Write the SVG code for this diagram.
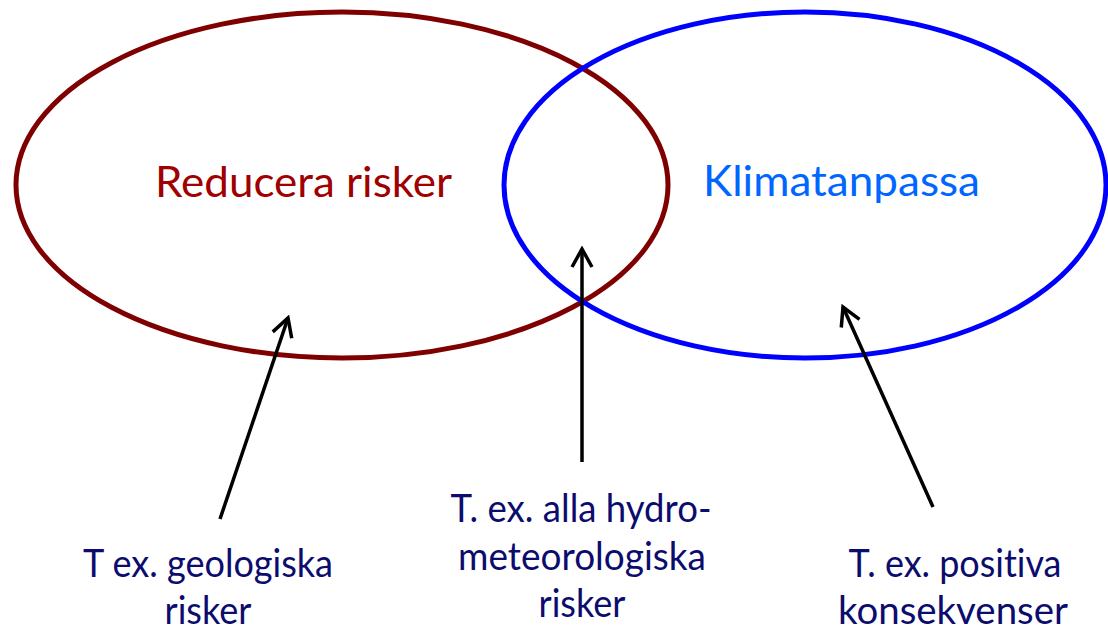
<svg xmlns="http://www.w3.org/2000/svg" width="1108" height="630" viewBox="0 0 1108 630">
<defs>
<style>
text{font-family:Lato,"Open Sans","Liberation Sans",sans-serif;font-variant-ligatures:none;}
.title{font-size:43px;}
.lbl{font-size:38px;fill:#0C0C6E;text-anchor:middle;}
.arr{stroke:#000;stroke-width:3.5;fill:none;}
</style>
<marker id="ah" viewBox="0 0 26 26" refX="23" refY="13" markerWidth="26" markerHeight="26" markerUnits="userSpaceOnUse" orient="auto">
<path d="M5,3 L23,13 L5,23" fill="none" stroke="#000" stroke-width="3.5"/>
</marker>
</defs>
<rect width="1108" height="630" fill="#fff"/>
<g id="reducera">
<ellipse cx="342" cy="185" rx="326" ry="173" fill="none" stroke="#7F0000" stroke-width="5"/>
<text class="title" x="155" y="197" fill="#A00000" textLength="297" lengthAdjust="spacingAndGlyphs">Reducera risker</text>
</g>
<g id="klimat">
<ellipse cx="805" cy="185" rx="301" ry="173" fill="none" stroke="#0000FF" stroke-width="5"/>
<text class="title" x="703" y="196" fill="#0066FF" textLength="277" lengthAdjust="spacingAndGlyphs">Klimatanpassa</text>
</g>
<g id="geo">
<text class="lbl" x="208" y="577" textLength="250" lengthAdjust="spacingAndGlyphs">T ex. geologiska</text>
<text class="lbl" x="208" y="624" textLength="87" lengthAdjust="spacingAndGlyphs">risker</text>
</g>
<g id="hydro">
<text class="lbl" x="581" y="522" textLength="261" lengthAdjust="spacingAndGlyphs">T. ex. alla hydro-</text>
<text class="lbl" x="582" y="570" textLength="248" lengthAdjust="spacingAndGlyphs">meteorologiska</text>
<text class="lbl" x="582" y="617" textLength="87" lengthAdjust="spacingAndGlyphs">risker</text>
</g>
<g id="positiva">
<text class="lbl" x="955" y="577" textLength="213" lengthAdjust="spacingAndGlyphs">T. ex. positiva</text>
<text class="lbl" x="953" y="624" textLength="230" lengthAdjust="spacingAndGlyphs">konsekvenser</text>
</g>
<g id="connectors">
<line class="arr" x1="220" y1="519" x2="288" y2="318" marker-end="url(#ah)"/>
<line class="arr" x1="582" y1="462" x2="582" y2="249" marker-end="url(#ah)"/>
<line class="arr" x1="933" y1="507" x2="843" y2="307" marker-end="url(#ah)"/>
</g>
</svg>
